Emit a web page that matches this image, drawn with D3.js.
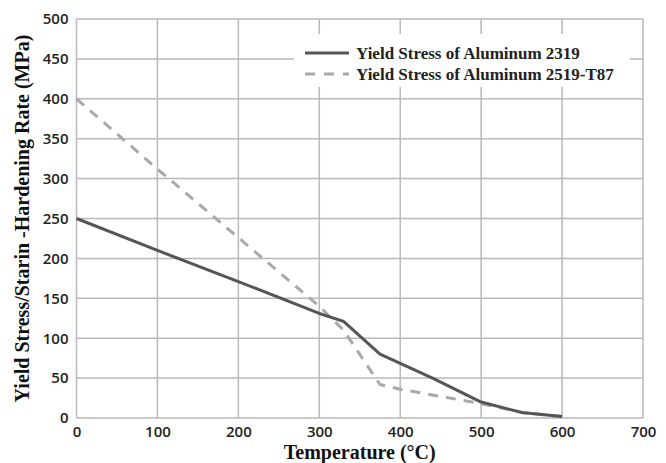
<!DOCTYPE html>
<html>
<head>
<meta charset="utf-8">
<script src="https://cdn.jsdelivr.net/npm/d3@7"></script>
<style>
  html, body { margin: 0; padding: 0; background: #fff; }
  svg { display: block; }
</style>
</head>
<body>
<svg id="chart" width="666" height="463"></svg>
<script>
// Temperature (°C) vs. yield stress (MPa) for two aluminium alloys
const temp2319 = [0, 100, 200, 300, 330, 375, 440, 500, 550, 600];
const stress2319 = [250, 210, 171, 131, 121, 80, 50, 20, 7, 2];

const temp2519 = [0, 100, 200, 300, 330, 375, 400, 500, 550, 600];
const stress2519 = [400, 312, 226, 140, 110, 42, 36, 18, 7, 2];

const seriesNames = ["Yield Stress of Aluminum 2319", "Yield Stress of Aluminum 2519-T87"];
const xTicks = [0, 100, 200, 300, 400, 500, 600, 700];
const yTicks = [0, 50, 100, 150, 200, 250, 300, 350, 400, 450, 500];

const svg = d3.select("#chart");
const margin = { left: 76.5, right: 23, top: 19, bottom: 45 };
const W = 666, H = 463;

const x = d3.scaleLinear().domain([0, 700]).range([margin.left, W - margin.right]);
const y = d3.scaleLinear().domain([0, 500]).range([H - margin.bottom, margin.top]);

const gridColor = "#b9b9b9";

// Gridlines
svg.append("g")
  .selectAll("line.v")
  .data(xTicks)
  .join("line")
  .attr("x1", d => x(d)).attr("x2", d => x(d))
  .attr("y1", y(0)).attr("y2", y(500))
  .attr("stroke", gridColor).attr("stroke-width", 1.5);

svg.append("g")
  .selectAll("line.h")
  .data(yTicks)
  .join("line")
  .attr("x1", x(0)).attr("x2", x(700))
  .attr("y1", d => y(d)).attr("y2", d => y(d))
  .attr("stroke", gridColor).attr("stroke-width", 1.5);

// Axes (labels only; lines are the gridlines)
const tickFont = "'Open Sans', 'DejaVu Sans', sans-serif";

const xAxis = svg.append("g")
  .attr("transform", `translate(0,${y(0)})`)
  .call(d3.axisBottom(x).tickValues(xTicks).tickSize(0).tickPadding(8));
xAxis.select(".domain").remove();
xAxis.selectAll("text")
  .attr("font-family", tickFont).attr("font-size", 15).attr("font-weight", 600)
  .attr("fill", "#222");

const yAxis = svg.append("g")
  .attr("transform", `translate(${x(0)},0)`)
  .call(d3.axisLeft(y).tickValues(yTicks).tickSize(0).tickPadding(8));
yAxis.select(".domain").remove();
yAxis.selectAll("text")
  .attr("font-family", tickFont).attr("font-size", 15).attr("font-weight", 600)
  .attr("fill", "#222");

// Series lines
const line = d3.line().x(d => x(d[0])).y(d => y(d[1]));

const data2319 = temp2319.map((t, i) => [t, stress2319[i]]);
const data2519 = temp2519.map((t, i) => [t, stress2519[i]]);

svg.append("path")
  .datum(data2519)
  .attr("d", line)
  .attr("fill", "none")
  .attr("stroke", "#a9a9a9")
  .attr("stroke-width", 3)
  .attr("stroke-dasharray", "10,8");

svg.append("path")
  .datum(data2319)
  .attr("d", line)
  .attr("fill", "none")
  .attr("stroke", "#555555")
  .attr("stroke-width", 3)
  .attr("stroke-linejoin", "round");

// Legend
const legend = svg.append("g");
legend.append("rect")
  .attr("x", 294).attr("y", 34).attr("width", 336).attr("height", 53)
  .attr("fill", "#fff");

const legendRows = [
  { name: seriesNames[0], color: "#555555", dash: null, y: 53 },
  { name: seriesNames[1], color: "#a9a9a9", dash: "10,9", y: 74 }
];
legendRows.forEach(r => {
  legend.append("line")
    .attr("x1", 305).attr("x2", 349)
    .attr("y1", r.y).attr("y2", r.y)
    .attr("stroke", r.color).attr("stroke-width", 3)
    .attr("stroke-dasharray", r.dash);
  legend.append("text")
    .attr("x", 356).attr("y", r.y)
    .attr("dy", "0.35em")
    .attr("font-family", "'Liberation Serif', 'Times New Roman', serif")
    .attr("font-size", 17).attr("font-weight", "bold")
    .attr("fill", "#222")
    .text(r.name);
});

// Axis titles
const titleFont = "'Liberation Serif', 'Times New Roman', serif";
svg.append("text")
  .attr("x", (x(0) + x(700)) / 2).attr("y", 459)
  .attr("text-anchor", "middle")
  .attr("font-family", titleFont).attr("font-size", 20).attr("font-weight", "bold")
  .attr("fill", "#111")
  .text("Temperature (°C)");

svg.append("text")
  .attr("transform", `translate(29,${(y(0) + y(500)) / 2}) rotate(-90)`)
  .attr("text-anchor", "middle")
  .attr("font-family", titleFont).attr("font-size", 20).attr("font-weight", "bold")
  .attr("fill", "#111")
  .text("Yield Stress/Starin -Hardening Rate (MPa)");
</script>
</body>
</html>
